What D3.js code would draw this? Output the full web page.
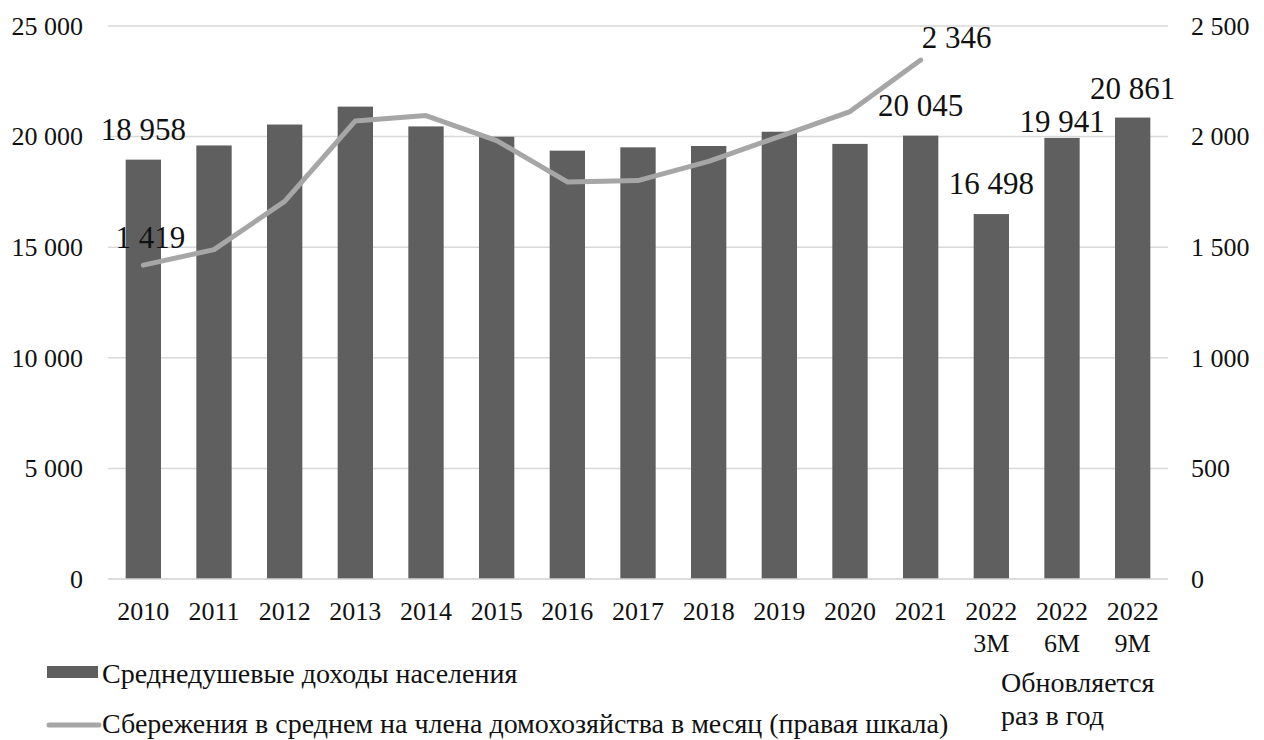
<!DOCTYPE html>
<html><head><meta charset="utf-8">
<script src="https://cdn.jsdelivr.net/npm/d3@7"></script>
<style>body{margin:0;background:#fff}svg{display:block}</style>
</head><body><svg id="c" width="1264" height="740"></svg>
<script>
const categories = [["2010"],["2011"],["2012"],["2013"],["2014"],["2015"],["2016"],["2017"],["2018"],["2019"],["2020"],["2021"],["2022","3M"],["2022","6M"],["2022","9M"]];
const incomes = [18958,19600,20545,21355,20460,19995,19365,19515,19575,20220,19670,20045,16498,19941,20861];
const savings = [1419,1489,1707,2071,2095,1982,1795,1801,1888,2000,2113,2346];
const incomeLabels = {0:"18 958",11:"20 045",12:"16 498",13:"19 941",14:"20 861"};
const savingLabels = {0:"1 419",11:"2 346"};
const leftTicks = [0,5000,10000,15000,20000,25000];
const rightTicks = [0,500,1000,1500,2000,2500];
const legendItems = ["Среднедушевые доходы населения","Сбережения в среднем на члена домохозяйства в месяц (правая шкала)"];
const note = ["Обновляется","раз в год"];

const FONT = "Liberation Serif";
const svg = d3.select("#c");
const L=108,R=1168,T=26,B=579;
const fmt = v => v===0?"0":d3.format(",")(v).replace(/,/g," ");
const x = d3.scaleBand().domain(d3.range(categories.length)).range([L,R]).paddingInner(0.5).paddingOuter(0.25);
const yL = d3.scaleLinear().domain([0,25000]).range([B,T]);
const yR = d3.scaleLinear().domain([0,2500]).range([B,T]);
const cx = i => x(i)+x.bandwidth()/2;

// grid
svg.append("g").selectAll("line").data(leftTicks.slice(1)).join("line")
 .attr("x1",L).attr("x2",R).attr("y1",d=>yL(d)).attr("y2",d=>yL(d))
 .attr("stroke","#d9d9d9").attr("stroke-width",1.5);

// bars
svg.append("g").selectAll("rect").data(incomes).join("rect")
 .attr("x",(d,i)=>x(i)).attr("width",x.bandwidth()).attr("y",d=>yL(d)).attr("height",d=>B-yL(d))
 .attr("fill","#5f5f5f");

// base axis line
svg.append("line").attr("x1",L).attr("x2",R).attr("y1",B).attr("y2",B).attr("stroke","#d0d0d0").attr("stroke-width",1.5);

// left axis
const la = svg.append("g").attr("transform",`translate(${L},0)`).call(d3.axisLeft(yL).tickValues(leftTicks).tickFormat(fmt).tickSize(0).tickPadding(25));
la.attr("font-family",FONT).attr("font-size",26);
la.select(".domain").remove();
la.selectAll("text").attr("fill","#111");
// right axis
const ra = svg.append("g").attr("transform",`translate(${R},0)`).call(d3.axisRight(yR).tickValues(rightTicks).tickFormat(fmt).tickSize(0).tickPadding(23));
ra.attr("font-family",FONT).attr("font-size",26);
ra.select(".domain").remove();
ra.selectAll("text").attr("fill","#111");

// category labels
const cg = svg.append("g").attr("font-family",FONT).attr("font-size",26).attr("fill","#111");
categories.forEach((c,i)=>{
  c.forEach((s,j)=>{
    cg.append("text").attr("x",cx(i)).attr("y",620+j*32).attr("text-anchor","middle").text(s);
  });
});

// line
svg.append("path").datum(savings)
 .attr("d",d3.line().x((d,i)=>cx(i)).y(d=>yR(d)))
 .attr("fill","none").attr("stroke","#a6a6a6").attr("stroke-width",5).attr("stroke-linecap","round").attr("stroke-linejoin","round");

// data labels
const dg = svg.append("g").attr("font-family",FONT).attr("font-size",31).attr("fill","#111");
const off = {0:19.5,11:20,12:20,13:6,14:19};
Object.entries(incomeLabels).forEach(([i,t])=>{
  i=+i;
  dg.append("text").attr("x",cx(i)).attr("y",yL(incomes[i])-off[i]).attr("text-anchor","middle").text(t);
});
dg.append("text").attr("x",cx(0)+7).attr("y",yR(savings[0])-17).attr("text-anchor","middle").text(savingLabels[0]);
dg.append("text").attr("x",cx(11)+36).attr("y",yR(savings[11])-12).attr("text-anchor","middle").text(savingLabels[11]);

// legend
const lg = svg.append("g").attr("font-family",FONT).attr("font-size",28).attr("fill","#111");
lg.append("rect").attr("x",47).attr("y",666).attr("width",51).attr("height",12).attr("fill","#5f5f5f");
lg.append("text").attr("x",102).attr("y",683).text(legendItems[0]);
lg.append("line").attr("x1",49).attr("x2",99).attr("y1",725).attr("y2",725).attr("stroke","#a6a6a6").attr("stroke-width",5).attr("stroke-linecap","round");
lg.append("text").attr("x",102).attr("y",733).text(legendItems[1]);

note.forEach((s,j)=>lg.append("text").attr("x",1001).attr("y",692+j*33).text(s));
</script></body></html>
